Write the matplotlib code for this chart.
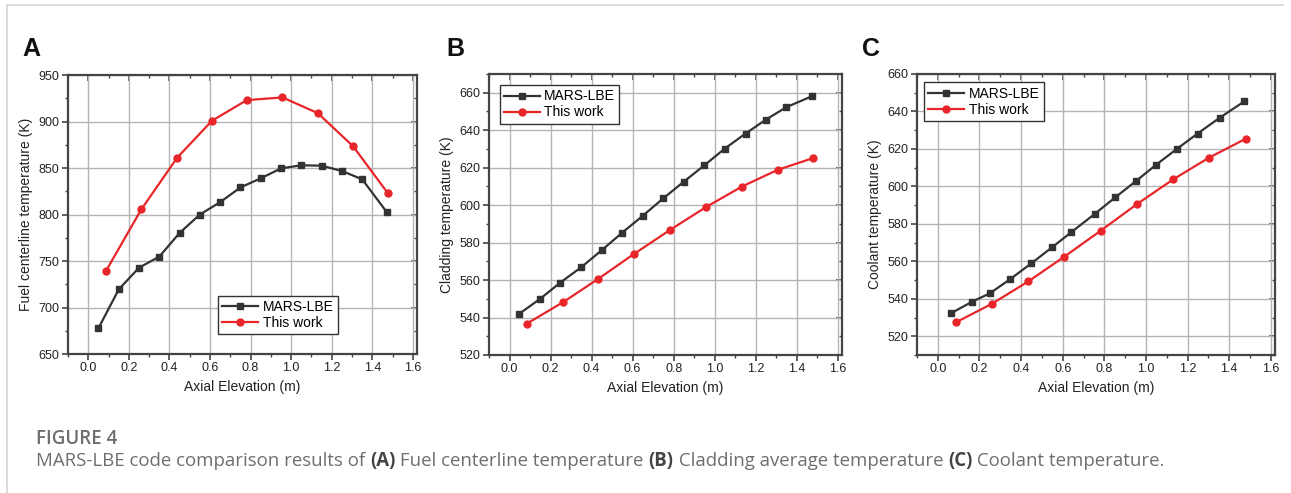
import matplotlib
matplotlib.use("Agg")
import matplotlib.pyplot as plt
from matplotlib.lines import Line2D
from matplotlib.ticker import MultipleLocator, AutoMinorLocator

# ---------------- data ----------------
xA_mars = [0.05, 0.15, 0.25, 0.35, 0.45, 0.55, 0.65, 0.75, 0.85, 0.95, 1.05, 1.15, 1.25, 1.35, 1.47]
yA_mars = [677.7, 719.4, 742.8, 754.7, 780.2, 800.0, 813.3, 829.1, 838.9, 849.6, 852.9, 852.5, 846.8, 837.8, 802.9]
xA_this = [0.087, 0.261, 0.437, 0.609, 0.781, 0.957, 1.131, 1.305, 1.477]
yA_this = [739.2, 805.4, 860.8, 900.7, 923.0, 925.9, 909.0, 873.4, 822.7]

xB_mars = [0.046, 0.147, 0.248, 0.35, 0.45, 0.549, 0.648, 0.749, 0.85, 0.95, 1.049, 1.15, 1.25, 1.349, 1.475]
yB_mars = [541.9, 549.8, 558.7, 566.9, 576.0, 585.3, 594.2, 603.6, 612.6, 621.3, 630.2, 638.2, 645.7, 652.3, 658.2]
xB_this = [0.085, 0.261, 0.433, 0.606, 0.784, 0.958, 1.132, 1.306, 1.481]
yB_this = [536.8, 548.2, 560.7, 573.9, 586.9, 599.0, 609.9, 618.8, 625.2]

xC_mars = [0.065, 0.166, 0.25, 0.349, 0.449, 0.548, 0.642, 0.755, 0.852, 0.954, 1.048, 1.151, 1.248, 1.355, 1.473]
yC_mars = [532.4, 538.5, 542.9, 550.6, 558.9, 567.4, 575.6, 585.4, 594.1, 603.0, 611.5, 620.2, 628.2, 636.7, 645.4]
xC_this = [0.088, 0.261, 0.435, 0.608, 0.782, 0.955, 1.13, 1.304, 1.479]
yC_this = [527.5, 537.4, 549.3, 562.5, 576.3, 590.4, 603.7, 615.4, 625.4]

series_labels = ["MARS-LBE", "This work"]
x_label = "Axial Elevation (m)"
y_labels = ["Fuel centerline temperature (K)", "Cladding temperature (K)", "Coolant temperature (K)"]
panel_letters = ["A", "B", "C"]
caption_title = "FIGURE 4"
caption_parts = [("MARS-LBE code comparison results of ", False), ("(A)", True),
                 (" Fuel centerline temperature ", False), ("(B)", True),
                 (" Cladding average temperature ", False), ("(C)", True),
                 (" Coolant temperature.", False)]

# ---------------- style ----------------
plt.rcParams['font.family'] = ['Liberation Sans', 'DejaVu Sans']
BLACK = '#333333'
RED = '#e8262a'
W, H = 1291, 493
fig = plt.figure(figsize=(W / 100, H / 100), dpi=100)

def fx(px):
    return px / W

def fy(py):
    return 1 - py / H

panels = [
    dict(rect=(68, 75, 417, 354), ylim=(650, 950), ystep=50,
         data=(xA_mars, yA_mars, xA_this, yA_this),
         leg=dict(loc='lower left', bbox_to_anchor=(0.43, 0.07))),
    dict(rect=(489, 74, 842, 355), ylim=(520, 670), ystep=20,
         data=(xB_mars, yB_mars, xB_this, yB_this),
         leg=dict(loc='upper left', bbox_to_anchor=(0.03, 0.96))),
    dict(rect=(917, 74, 1275, 355), ylim=(510, 660), ystep=20,
         data=(xC_mars, yC_mars, xC_this, yC_this),
         leg=dict(loc='upper left', bbox_to_anchor=(0.02, 0.97))),
]

for i, p in enumerate(panels):
    l, t, r, b = p['rect']
    ax = fig.add_axes([fx(l), fy(b), fx(r - l), (b - t) / H])
    xm, ym, xt, yt = p['data']
    ax.plot(xm, ym, '-s', color=BLACK, lw=1.6, ms=4.2, label=series_labels[0], zorder=3)
    ax.plot(xt, yt, '-o', color=RED, lw=1.6, ms=5, label=series_labels[1], zorder=3)
    ax.set_xlim(-0.1, 1.62)
    ax.set_ylim(*p['ylim'])
    ax.xaxis.set_major_locator(MultipleLocator(0.2))
    ax.xaxis.set_minor_locator(MultipleLocator(0.1))
    ax.yaxis.set_major_locator(MultipleLocator(p['ystep']))
    ax.yaxis.set_minor_locator(AutoMinorLocator(2))
    ax.xaxis.set_major_formatter(matplotlib.ticker.FormatStrFormatter('%.1f'))
    ax.grid(True, which='major', color='#b4b4b4', lw=1.0, zorder=0)
    ax.set_axisbelow(True)
    for s in ax.spines.values():
        s.set_color('#444444')
        s.set_linewidth(1.6)
    ax.tick_params(which='major', direction='out', length=4, width=1.2, color='#444444',
                   labelsize=9, labelcolor='#222222', pad=2)
    ax.tick_params(which='minor', direction='out', length=2.5, width=1.0, color='#444444')
    # top/right inward ticks
    sx = ax.secondary_xaxis('top')
    sx.xaxis.set_major_locator(MultipleLocator(0.2))
    sx.xaxis.set_minor_locator(MultipleLocator(0.1))
    sx.tick_params(which='major', direction='in', length=4, width=1.2, color='#444444', labeltop=False)
    sx.tick_params(which='minor', direction='in', length=2.5, width=1.0, color='#444444')
    sx.spines['top'].set_visible(False)
    sy = ax.secondary_yaxis('right')
    sy.yaxis.set_major_locator(MultipleLocator(p['ystep']))
    sy.yaxis.set_minor_locator(AutoMinorLocator(2))
    sy.tick_params(which='major', direction='in', length=4, width=1.2, color='#444444', labelright=False)
    sy.tick_params(which='minor', direction='in', length=2.5, width=1.0, color='#444444')
    sy.spines['right'].set_visible(False)

    ax.set_xlabel(x_label, fontsize=10, color='#222222', labelpad=4)
    ax.set_ylabel(y_labels[i], fontsize=10, color='#222222', labelpad=4)
    leg = ax.legend(fontsize=10, frameon=True, fancybox=False, edgecolor='#333333',
                    handlelength=2.6, handletextpad=0.3, borderpad=0.3, labelspacing=0.15,
                    borderaxespad=0, **p['leg'])
    leg.get_frame().set_linewidth(1.0)
    leg.get_frame().set_alpha(1)

# panel letters
for letter, px in zip(panel_letters, [22, 446, 862]):
    fig.text(fx(px), fy(49), letter, fontsize=18, fontweight='bold', color='#111111',
             va='center', ha='left')

# light border frame
fig.add_artist(Line2D([fx(7), fx(1283)], [fy(5), fy(5)], color='#d4d4d4', lw=1.2))
fig.add_artist(Line2D([fx(7), fx(7)], [fy(5), fy(493)], color='#d4d4d4', lw=1.2))

# caption
cap_font = ['Open Sans', 'DejaVu Sans']
fig.text(fx(36), fy(439), caption_title, fontsize=13.5, fontweight='semibold', color='#6e6e6e',
         family=cap_font, va='center', ha='left')
fig.canvas.draw()
renderer = fig.canvas.get_renderer()
xpos = fx(36)
for txt, bold in caption_parts:
    t = fig.text(xpos, fy(461), txt, fontsize=13.4, fontweight='bold' if bold else 'normal',
                 color='#444444' if bold else '#6e6e6e', family=cap_font, va='center', ha='left')
    bb = t.get_window_extent(renderer=renderer)
    xpos += bb.width / W

fig.savefig('out.png', dpi=100)
